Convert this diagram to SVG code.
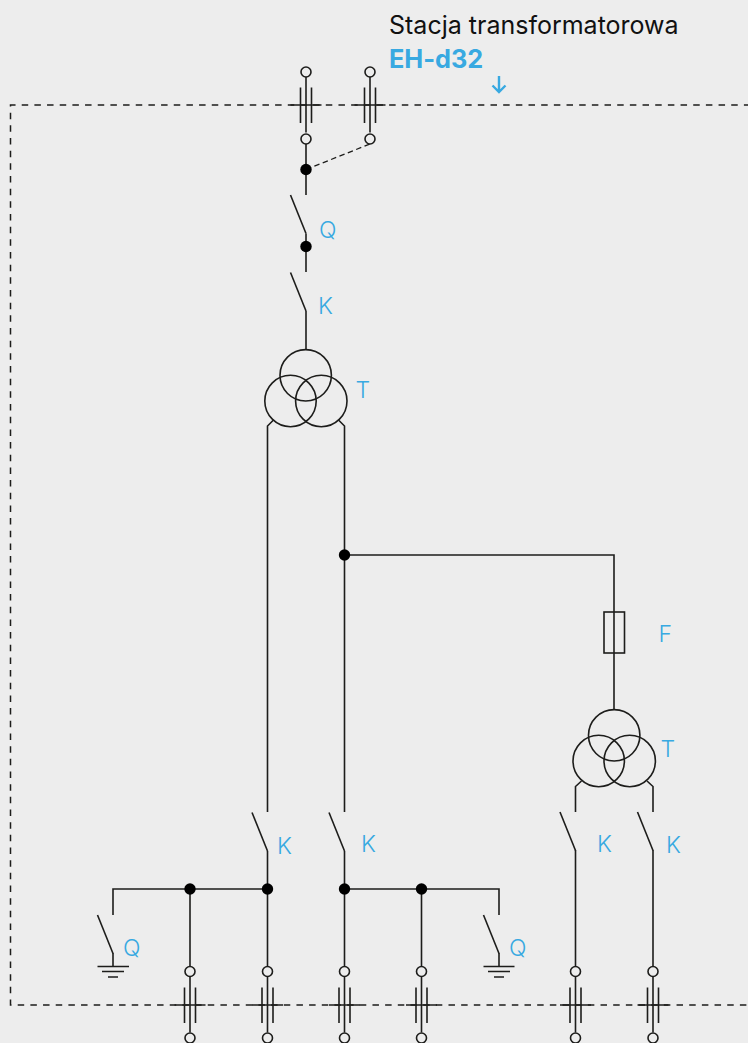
<svg xmlns="http://www.w3.org/2000/svg" width="748" height="1043" viewBox="0 0 748 1043">
<style>
.w{fill:none;stroke:#1d1d1b;stroke-width:1.6}
.o{fill:#ededed;stroke:#1d1d1b;stroke-width:1.6}
.d{fill:none;stroke:#1d1d1b;stroke-width:1.5;stroke-dasharray:6.5 6.17;stroke-dashoffset:2.4}
.e{fill:none;stroke:#1d1d1b;stroke-width:1.3;stroke-dasharray:5.500 3.500}
.l{font-family:Inter,"Liberation Sans",sans-serif;font-size:23px;font-weight:350;fill:#38a9e1}
</style>
<defs>
<g id="dot"><circle r="5.7" fill="#000"/></g>
<g id="open"><circle r="5" class="o"/></g>
<g id="sw"><path class="w" d="M-15.500 0L0 38.500"/></g>
<g id="cap"><path class="w" d="M0 5V61M-5.500 16V51.500M5.500 16V51.500M-15.500 33.500H15.500"/></g>
</defs>
<rect width="748" height="1043" fill="#ededed"/>
<g id="frame"><path class="d" d="M748 105H10.500V1005H748"/></g>
<g id="connectors">
<path class="e" d="M306 169.500L370 144"/>
<path class="w" d="M306 144V195M306 233.500V272M306 311V349.500"/>
<path class="w" d="M273.500 420L267.500 426V812M338.500 420L344.500 426V812"/>
<path class="w" d="M344.500 555H614V709"/>
<path class="w" d="M581.500 781L575.500 786.500V812M647 781L653 786.500V812"/>
<path class="w" d="M267.500 851V966M344.500 851V966M190 889V966M421.500 889V966M575.500 850V966M653 850V966"/>
<path class="w" d="M113 915V889H267.500M344.500 889H499V915"/>
<path class="w" d="M113 953V966M499 953V966"/>
</g>
<g id="bushing-top">
<use href="#cap" x="306" y="71.500"/><use href="#cap" x="370" y="71.500"/>
<use href="#open" x="306" y="72"/><use href="#open" x="370" y="72"/>
<use href="#open" x="306" y="139"/><use href="#open" x="370" y="139"/>
<use href="#dot" x="306" y="169.500"/>
</g>
<g id="switch-q-top"><use href="#sw" x="306" y="195"/><use href="#dot" x="306" y="246.500"/><text class="l" x="319" y="238">Q</text></g>
<g id="switch-k-top"><use href="#sw" x="306" y="272.500"/><text class="l" x="318" y="314">K</text></g>
<g id="transformer-1" class="w">
<circle cx="305.700" cy="375.300" r="25.700"/><circle cx="290.500" cy="401" r="25.700"/><circle cx="321.300" cy="401" r="25.700"/>
<text class="l" x="355.500" y="398" stroke="none">T</text></g>
<g id="junction"><use href="#dot" x="344.500" y="555"/></g>
<g id="fuse"><rect class="w" x="604" y="612" width="20.500" height="41"/><text class="l" x="658.500" y="642">F</text></g>
<g id="transformer-2" class="w">
<circle cx="614.200" cy="735.300" r="25.700"/><circle cx="598.700" cy="761" r="25.700"/><circle cx="629.700" cy="761" r="25.700"/>
<text class="l" x="660.500" y="757" stroke="none">T</text></g>
<g id="switch-k1"><use href="#sw" x="267.500" y="812.500"/><text class="l" x="277" y="854">K</text></g>
<g id="switch-k2"><use href="#sw" x="344.500" y="812.500"/><text class="l" x="361" y="852">K</text></g>
<g id="switch-k3"><use href="#sw" x="575.500" y="812"/><text class="l" x="597" y="852">K</text></g>
<g id="switch-k4"><use href="#sw" x="653" y="812"/><text class="l" x="666" y="853">K</text></g>
<g id="earth-q1"><use href="#sw" x="113" y="915"/><path class="w" d="M97.500 966.500H129M102 971.500H124M108 977H118"/><text class="l" x="123" y="956">Q</text></g>
<g id="earth-q2"><use href="#sw" x="499" y="915"/><path class="w" d="M483.500 966.500H514.500M488 971.500H510M494 977H504"/><text class="l" x="509" y="956">Q</text></g>
<g id="bus-nodes"><use href="#dot" x="190" y="889"/><use href="#dot" x="267.500" y="889"/><use href="#dot" x="344.500" y="889"/><use href="#dot" x="421.500" y="889"/></g>
<g id="bushing-bottom">
<use href="#cap" x="190" y="971.500"/><use href="#cap" x="267.500" y="971.500"/><use href="#cap" x="344.500" y="971.500"/><use href="#cap" x="421.500" y="971.500"/><use href="#cap" x="575.500" y="971.500"/><use href="#cap" x="653" y="971.500"/>
<use href="#open" x="190" y="971.500"/><use href="#open" x="267.500" y="971.500"/><use href="#open" x="344.500" y="971.500"/><use href="#open" x="421.500" y="971.500"/><use href="#open" x="575.500" y="971.500"/><use href="#open" x="653" y="971.500"/>
<use href="#open" x="190" y="1038"/><use href="#open" x="267.500" y="1038"/><use href="#open" x="344.500" y="1038"/><use href="#open" x="421.500" y="1038"/><use href="#open" x="575.500" y="1038"/><use href="#open" x="653" y="1038"/>
</g>
<g id="title">
<text x="389" y="33.500" font-family="Inter,'Liberation Sans',sans-serif" font-size="25" fill="#111">Stacja transformatorowa</text>
<text x="389" y="67.500" font-family="Inter,'Liberation Sans',sans-serif" font-size="25.300" font-weight="700" fill="#38a9e1">EH-d32</text>
<path d="M499 76V92M492.500 85.500L499 92L505.500 85.500" fill="none" stroke="#38a9e1" stroke-width="2.400"/>
</g>
</svg>
